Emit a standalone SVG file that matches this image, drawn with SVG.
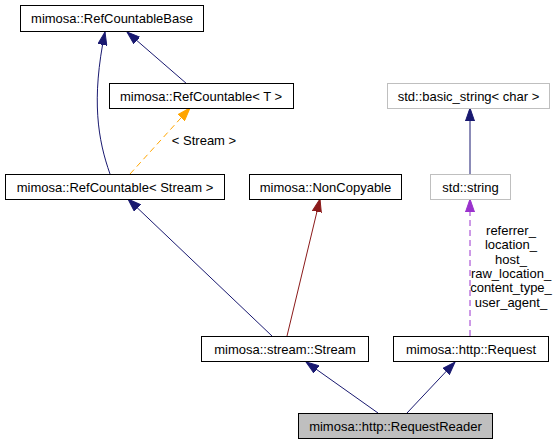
<svg xmlns="http://www.w3.org/2000/svg" width="559" height="445" viewBox="0 0 559 445">
<style>
text{font-family:"Liberation Sans",Arial,sans-serif;font-size:13px;fill:#000;text-anchor:middle}
.n{fill:#fff;stroke:#000;stroke-width:1}
.g{fill:#fff;stroke:#bfbfbf;stroke-width:1}
.e{fill:none;stroke:#191970;stroke-width:1}
</style>
<defs>
<marker id="ab" markerUnits="userSpaceOnUse" markerWidth="14" markerHeight="10" refX="13" refY="5" orient="auto"><path d="M0,0.5 L13,5 L0,9.5 z" fill="#191970" stroke="#191970"/></marker>
<marker id="ar" markerUnits="userSpaceOnUse" markerWidth="14" markerHeight="10" refX="13" refY="5" orient="auto"><path d="M0,0.5 L13,5 L0,9.5 z" fill="#8b1a1a" stroke="#8b1a1a"/></marker>
<marker id="ao" markerUnits="userSpaceOnUse" markerWidth="14" markerHeight="10" refX="13" refY="5" orient="auto"><path d="M0,0.5 L13,5 L0,9.5 z" fill="#ffa500" stroke="#ffa500"/></marker>
<marker id="ap" markerUnits="userSpaceOnUse" markerWidth="14" markerHeight="10" refX="13" refY="5" orient="auto"><path d="M0,0.5 L13,5 L0,9.5 z" fill="#9a32cd" stroke="#9a32cd"/></marker>
</defs>
<g id="edges">
<path class="e" d="M110,174 C98,140 91,100 105,32" marker-end="url(#ab)"/>
<path class="e" d="M187,84 L127,32" marker-end="url(#ab)"/>
<path d="M130,174 L190,108" fill="none" stroke="#ffa500" stroke-dasharray="6,4" marker-end="url(#ao)"/>
<text x="204" y="145">&lt; Stream &gt;</text>
<path class="e" d="M272,336 L128,199" marker-end="url(#ab)"/>
<path d="M287,336 L320,199" fill="none" stroke="#8b1a1a" marker-end="url(#ar)"/>
<path class="e" d="M470,174 L470,108" marker-end="url(#ab)"/>
<path d="M470,336 L470,199" fill="none" stroke="#9a32cd" stroke-dasharray="6,4" marker-end="url(#ap)"/>
<text x="511" y="235">referrer_</text>
<text x="511" y="249">location_</text>
<text x="511" y="264">host_</text>
<text x="511" y="278">raw_location_</text>
<text x="511" y="292">content_type_</text>
<text x="511" y="307">user_agent_</text>
<path class="e" d="M378,413 L306,362" marker-end="url(#ab)"/>
<path class="e" d="M407,413 L455,362" marker-end="url(#ab)"/>
</g>
<g id="RefCountableBase"><rect class="n" x="20.5" y="5.5" width="183" height="26"/><text x="112" y="23">mimosa::RefCountableBase</text></g>
<g id="RefCountableT"><rect class="n" x="109.5" y="83.5" width="184" height="25"/><text x="201" y="100.5">mimosa::RefCountable&lt; T &gt;</text></g>
<g id="RefCountableStream"><rect class="n" x="5.5" y="174.5" width="219" height="25"/><text x="115" y="191.5">mimosa::RefCountable&lt; Stream &gt;</text></g>
<g id="NonCopyable"><rect class="n" x="249.5" y="174.5" width="152" height="25"/><text x="325.5" y="191.5">mimosa::NonCopyable</text></g>
<g id="basic_string"><rect class="g" x="387.5" y="83.5" width="162" height="25"/><text x="468.5" y="100.5">std::basic_string&lt; char &gt;</text></g>
<g id="string"><rect class="g" x="430.5" y="174.5" width="80" height="25"/><text x="470.5" y="191.5">std::string</text></g>
<g id="Stream"><rect class="n" x="201.5" y="336.5" width="167" height="25"/><text x="285" y="353.5">mimosa::stream::Stream</text></g>
<g id="Request"><rect class="n" x="393.5" y="336.5" width="155" height="25"/><text x="471" y="353.5">mimosa::http::Request</text></g>
<g id="RequestReader"><rect x="298.5" y="413.5" width="194" height="25" fill="#bfbfbf" stroke="#000"/><text x="395.5" y="430.5">mimosa::http::RequestReader</text></g>
</svg>
